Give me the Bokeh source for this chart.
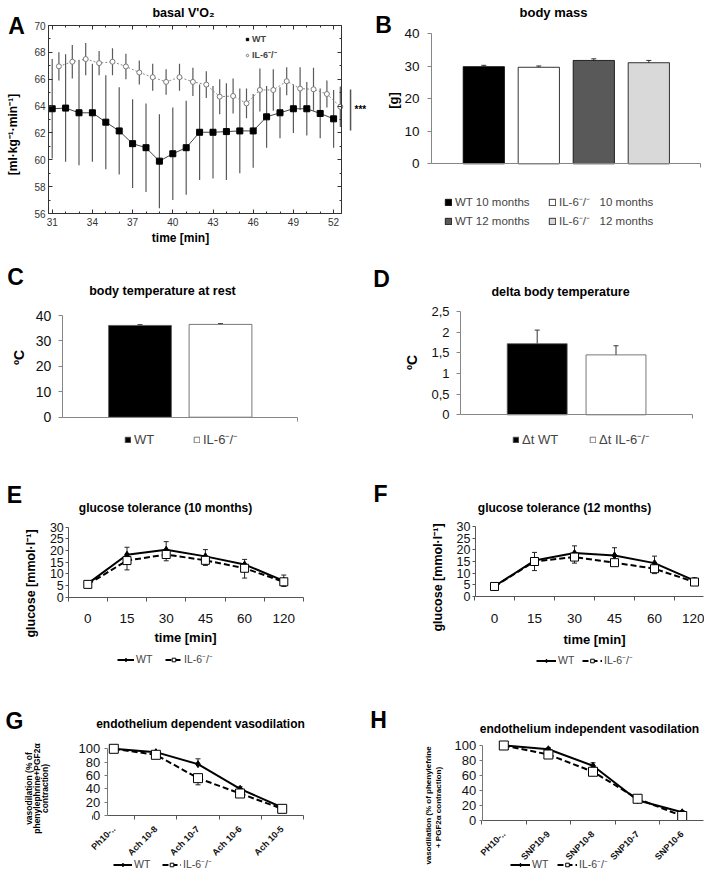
import math
from bokeh.plotting import figure
from bokeh.models import (Range1d, FixedTicker, Label, Legend, LegendItem, Whisker, TeeHead,
                          ColumnDataSource, LinearAxis, BoxAnnotation, CustomJSTickFormatter)
from bokeh.layouts import column, row
from bokeh.transform import dodge
from bokeh.embed import file_html
from bokeh.resources import INLINE

FONT = "Liberation Sans"
SUP = "\u207b/\u207b"

# ---------------- data ----------------
# A: basal V'O2
minutes = [31, 32, 33, 34, 35, 36, 37, 38, 39, 40, 41, 42, 43, 44, 45, 46, 47, 48, 49, 50, 51, 52]
wt_vo2 = [63.8, 63.85, 63.5, 63.5, 62.8, 62.15, 61.2, 60.9, 59.9, 60.45, 60.9, 62.05,
          62.05, 62.1, 62.15, 62.15, 63.2, 63.5, 63.8, 63.8, 63.45, 63.05]
wt_vo2_err = [3.7, 4.0, 3.9, 3.65, 3.5, 3.25, 3.3, 3.3, 3.5, 3.45, 3.5, 3.55,
              3.45, 3.6, 3.15, 2.75, 2.3, 1.9, 1.8, 2.0, 1.85, 2.15]
il_vo2 = [66.96, 67.3, 67.5, 67.2, 67.3, 66.95, 66.5, 66.15, 65.8, 66.15, 65.8, 65.6,
          64.7, 64.75, 64.2, 65.2, 65.2, 65.85, 65.3, 65.25, 64.9, 63.95]
il_vo2_err = [1.05, 1.25, 1.2, 0.9, 1.0, 0.95, 0.9, 1.0, 0.95, 1.0, 1.05, 1.0,
              1.3, 1.3, 1.1, 1.6, 1.55, 1.05, 1.6, 1.6, 1.0, 1.5]
a_xticks = [31, 34, 37, 40, 43, 46, 49, 52]
a_yticks = [56, 58, 60, 62, 64, 66, 68, 70]
a_yminor = [56, 57, 58, 59, 60, 61, 62, 63, 64, 65, 66, 67, 68, 69, 70]

# B: body mass
mass_groups = ["WT 10 months", "IL-6" + SUP + "   10 months", "WT 12 months", "IL-6" + SUP + "   12 months"]
mass = [29.9, 29.7, 31.8, 31.1]
mass_err = [0.4, 0.4, 0.5, 0.7]
mass_colors = ["#000000", "#ffffff", "#595959", "#d9d9d9"]
b_yticks = [0, 10, 20, 30, 40]

# C: body temperature at rest
temp_groups = ["WT", "IL-6" + SUP]
temp = [36.1, 36.5]
temp_err = [0.3, 0.3]
c_yticks = [0, 10, 20, 30, 40]

# D: delta body temperature
delta_groups = ["\u0394t WT", "\u0394t IL-6" + SUP]
delta = [1.72, 1.45]
delta_err = [0.33, 0.22]
d_yticks = [0, 0.5, 1, 1.5, 2, 2.5]

two_colors = ["#000000", "#ffffff"]

# E/F: glucose tolerance
gtt_times = ["0", "15", "30", "45", "60", "120"]
wt10 = [5.8, 18.2, 20.3, 17.5, 14.0, 7.0]
wt10_err = [0.8, 3.2, 3.5, 2.9, 2.2, 2.5]
il10 = [5.5, 15.7, 18.3, 15.8, 12.4, 6.6]
il10_err = [0.8, 4.0, 2.7, 2.2, 4.2, 2.0]
wt12 = [4.4, 15.4, 18.6, 17.6, 14.3, 6.8]
wt12_err = [0.8, 3.5, 3.1, 3.3, 3.0, 1.2]
il12 = [4.3, 15.0, 16.9, 14.5, 11.9, 6.2]
il12_err = [0.8, 3.9, 2.6, 1.2, 2.1, 0.9]
gtt_yticks = [0, 5, 10, 15, 20, 25, 30]

# G/H: vasodilation
dep_labels = ["Ph10-..", "Ach 10-8", "Ach 10-7", "Ach 10-6", "Ach 10-5"]
wt_dep = [100, 95, 77, 40, 12]
wt_dep_err = [1, 2, 8, 3, 2]
il_dep = [100, 91, 56, 33, 10]
il_dep_err = [1, 3, 10, 3, 2]
ind_labels = ["PH10-..", "SNP10-9", "SNP10-8", "SNP10-7", "SNP10-6"]
wt_ind = [100, 95, 73, 27, 11]
wt_ind_err = [1, 2, 4, 3, 2]
il_ind = [100, 88, 65, 29, 6]
il_ind_err = [1, 2, 4, 3, 2]
vaso_yticks = [0, 20, 40, 60, 80, 100]


# ---------------- helpers ----------------
class Panel:
    """Figure whose frame fills the whole figure; the data ranges are set so that
    the data pair xd/yd lands on the page pixels xp/yp."""

    def __init__(self, ox, oy, w, h, xd, xp, yd, yp):
        self.ox, self.oy, self.w, self.h = ox, oy, w, h
        self.kx = (xd[1] - xd[0]) / (xp[1] - xp[0])
        self.ky = (yd[1] - yd[0]) / (yp[0] - yp[1])
        self.xd0, self.xp0, self.yd0, self.yp0 = xd[0], xp[0], yd[0], yp[0]
        p = figure(width=w, height=h,
                   x_range=Range1d(self.xd(ox), self.xd(ox + w)),
                   y_range=Range1d(self.yd(oy + h), self.yd(oy)),
                   output_backend="svg", toolbar_location=None,
                   min_border=0, min_border_left=0, min_border_right=0,
                   min_border_top=0, min_border_bottom=0)
        p.outline_line_color = None
        p.xgrid.visible = False
        p.ygrid.visible = False
        p.background_fill_color = "white"
        p.border_fill_color = "white"
        self.p = p

    def xd(self, X):
        return self.xd0 + (X - self.xp0) * self.kx

    def yd(self, Y):
        return self.yd0 + (self.yp0 - Y) * self.ky

    def sx(self, X):
        return X - self.ox

    def sy(self, Y):
        return self.oy + self.h - Y

    def axes(self, left, right, bottom, top):
        xa, ya = self.p.xaxis[0], self.p.yaxis[0]
        xa.fixed_location = self.yd(bottom)
        xa.bounds = (self.xd(left), self.xd(right))
        ya.fixed_location = self.xd(left)
        ya.bounds = (self.yd(bottom), self.yd(top))
        return xa, ya

    def text(self, X, Y, s, size, bold=False, align="center", angle=0.0, color="#000000"):
        self.p.add_layout(Label(x=self.sx(X), y=self.sy(Y), x_units="screen", y_units="screen",
                                text=s, text_font=FONT, text_font_size=f"{size}px",
                                text_font_style="bold" if bold else "normal",
                                text_align=align, text_baseline="middle", angle=angle,
                                text_color=color))

    def legend(self, X, Y, items, orientation="horizontal", glyph_w=8, glyph_h=8, size=11,
               bold=False, spacing=6, standoff=3, label_w=20, label_h=10):
        item_h = max(glyph_h, label_h)
        n = len(items)
        if orientation == "horizontal":
            bottom = Y + item_h / 2
        else:
            bottom = Y - item_h / 2 + n * item_h + (n - 1) * spacing
        lg = Legend(items=items, location=(self.sx(X), self.sy(bottom)), orientation=orientation,
                    glyph_width=int(glyph_w), glyph_height=int(glyph_h), label_width=int(label_w),
                    label_height=int(label_h), label_standoff=int(standoff), spacing=int(spacing),
                    padding=0, margin=0, border_line_color=None, background_fill_alpha=0,
                    label_text_font=FONT, label_text_font_size=f"{size}px",
                    label_text_font_style="bold" if bold else "normal",
                    label_text_baseline="middle")
        self.p.add_layout(lg, "center")


def style_axis(ax, size, color="#868686", tick_out=4, tick_in=0, standoff=6, label_color="#111111",
               bold=False):
    ax.axis_line_color = color
    ax.major_tick_line_color = color
    ax.major_tick_out = tick_out
    ax.major_tick_in = tick_in
    ax.minor_tick_line_color = None
    ax.major_label_text_font = FONT
    ax.major_label_text_font_size = f"{size}px"
    ax.major_label_text_color = label_color
    ax.major_label_standoff = standoff
    ax.major_label_text_font_style = "bold" if bold else "normal"


ROW1, ROW2, ROW3, ROW4 = 246, 216, 220, 190
Y2 = ROW1
Y3 = ROW1 + ROW2
Y4 = ROW1 + ROW2 + ROW3

# ---------------- A ----------------
A = Panel(0, 0, 352, ROW1, (31, 52), (51.7, 51.7 + 21 * 13.4), (56, 70), (213, 25))
pA = A.p
srcA = ColumnDataSource(dict(
    t=minutes, wt=wt_vo2, il=il_vo2,
    wt_lo=[v - e for v, e in zip(wt_vo2, wt_vo2_err)], wt_hi=[v + e for v, e in zip(wt_vo2, wt_vo2_err)],
    il_lo=[v - e for v, e in zip(il_vo2, il_vo2_err)], il_hi=[v + e for v, e in zip(il_vo2, il_vo2_err)]))
pA.segment(x0="t", y0="wt_lo", x1="t", y1="wt_hi", source=srcA, line_color="#5a5a5a", line_width=1.2)
pA.segment(x0=dodge("t", 0.5), y0="il_lo", x1=dodge("t", 0.5), y1="il_hi", source=srcA,
           line_color="#5a5a5a", line_width=1.2)
pA.line(x="t", y="wt", source=srcA, line_color="#444444", line_width=1)
rA_wt = pA.scatter(x="t", y="wt", source=srcA, marker="square", size=6, fill_color="black",
                   line_color="black")
pA.line(x=dodge("t", 0.5), y="il", source=srcA, line_color="#8a8a8a", line_width=1, line_dash="2 2")
rA_il = pA.scatter(x=dodge("t", 0.5), y="il", source=srcA, marker="circle", size=5,
                   fill_color="white", line_color="#7a7a7a")
xtA = FixedTicker(ticks=a_xticks, minor_ticks=minutes)
ytA = FixedTicker(ticks=a_yticks, minor_ticks=a_yminor)
xaA, yaA = A.axes(48, 340.7, 213, 25)
xaA.ticker = xtA
yaA.ticker = ytA
for ax in [xaA, yaA]:
    style_axis(ax, 10, color="#333333", tick_out=0, tick_in=4, standoff=4, label_color="#333333")
    ax.minor_tick_line_color = "#333333"
    ax.minor_tick_in = 2
    ax.minor_tick_out = 0
yaA.major_label_standoff = 3
topA = LinearAxis(ticker=xtA, fixed_location=A.yd(25), bounds=(A.xd(48), A.xd(340.7)))
rightA = LinearAxis(ticker=ytA, fixed_location=A.xd(340.7), bounds=(A.yd(213), A.yd(25)))
for ax in [topA, rightA]:
    style_axis(ax, 10, color="#333333", tick_out=0, tick_in=4, standoff=0)
    ax.major_label_text_color = None
    ax.minor_tick_line_color = "#333333"
    ax.minor_tick_in = 2
    ax.minor_tick_out = 0
pA.add_layout(topA, "above")
pA.add_layout(rightA, "right")
A.text(16, 25, "A", 23, bold=True)
A.text(183, 12, "basal V'O\u2082", 12.5, bold=True)
A.text(12, 134, "[ml\u00b7kg\u207b\u00b9\u00b7min\u207b\u00b9]", 12, bold=True, angle=math.pi / 2)
A.text(180, 237, "time [min]", 12, bold=True)
pA.add_layout(BoxAnnotation(left=A.sx(349.3), right=A.sx(350.8), top=A.sy(89), bottom=A.sy(130),
                            left_units="screen", right_units="screen", top_units="screen",
                            bottom_units="screen", fill_color="#555555", fill_alpha=1,
                            line_color=None))
A.legend(244, 43.5, [LegendItem(label="WT", renderers=[rA_wt]),
                     LegendItem(label="IL-6" + SUP, renderers=[rA_il])],
         orientation="vertical", glyph_w=6, glyph_h=6, size=9, bold=True, spacing=4,
         standoff=2, label_w=20, label_h=9)

# ---------------- B ----------------
B = Panel(352, 0, 352, ROW1, (1, 2), (483.3, 538.3), (0, 40), (163.3, 33.3))
pB = B.p
srcB = ColumnDataSource(dict(x=list(range(1, len(mass) + 1)), v=mass,
                             hi=[v + e for v, e in zip(mass, mass_err)], color=mass_colors))
rB = pB.vbar(x="x", top="v", width=0.75, source=srcB, fill_color="color", line_color="black",
             line_width=0.8)
pB.add_layout(Whisker(source=srcB, base="x", lower="v", upper="hi", dimension="height",
                      line_color="#333333", line_width=1, lower_head=None,
                      upper_head=TeeHead(size=5, line_color="#333333", line_width=1)))
xaB, yaB = B.axes(431, 700, 163.3, 33.3)
yaB.ticker = FixedTicker(ticks=b_yticks)
style_axis(yaB, 13.5, standoff=8)
xaB.ticker = FixedTicker(ticks=[B.xd(700)])
style_axis(xaB, 10, standoff=0)
xaB.major_label_text_color = None
B.text(383, 24, "B", 23, bold=True)
B.text(553, 12, "body mass", 13, bold=True)
B.text(393, 100, "[g]", 13, bold=True, angle=math.pi / 2)
B.text(354, 109, "***", 10, bold=True, align="left")
B.legend(444, 203, [LegendItem(label=mass_groups[0], renderers=[rB], index=0),
                    LegendItem(label=mass_groups[1], renderers=[rB], index=1)],
         glyph_w=8, glyph_h=8, size=11.5, spacing=8, standoff=3, label_w=85, label_h=12)
B.legend(444, 222, [LegendItem(label=mass_groups[2], renderers=[rB], index=2),
                    LegendItem(label=mass_groups[3], renderers=[rB], index=3)],
         glyph_w=8, glyph_h=8, size=11.5, spacing=8, standoff=3, label_w=85, label_h=12)

# ---------------- C ----------------
C = Panel(0, Y2, 352, ROW2, (1, 2), (139.5, 220), (0, 40), (416.7, 315))
pC = C.p
srcC = ColumnDataSource(dict(x=list(range(1, len(temp) + 1)), v=temp,
                             hi=[v + e for v, e in zip(temp, temp_err)], color=two_colors))
rC = pC.vbar(x="x", top="v", width=0.78, source=srcC, fill_color="color", line_color="#555555",
             line_width=0.8)
pC.add_layout(Whisker(source=srcC, base="x", lower="v", upper="hi", dimension="height",
                      line_color="#333333", line_width=1, lower_head=None,
                      upper_head=TeeHead(size=5, line_color="#333333", line_width=1)))
xaC, yaC = C.axes(61.7, 297, 416.7, 315)
yaC.ticker = FixedTicker(ticks=c_yticks)
style_axis(yaC, 14, standoff=7)
xaC.ticker = FixedTicker(ticks=[C.xd(297)])
style_axis(xaC, 10, standoff=0)
xaC.major_label_text_color = None
C.text(15, 276, "C", 23, bold=True)
C.text(162, 290, "body temperature at rest", 12.5, bold=True)
C.text(18, 357, "\u00baC", 14, bold=True, angle=math.pi / 2)
C.legend(124, 442, [LegendItem(label=temp_groups[0], renderers=[rC], index=0),
                    LegendItem(label=temp_groups[1], renderers=[rC], index=1)],
         glyph_w=7, glyph_h=7, size=13, spacing=9, standoff=3, label_w=50, label_h=12)

# ---------------- D ----------------
D = Panel(352, Y2, 352, ROW2, (1, 2), (536.7, 615.5), (0, 2.5), (414.3, 311))
pD = D.p
srcD = ColumnDataSource(dict(x=list(range(1, len(delta) + 1)), v=delta,
                             hi=[v + e for v, e in zip(delta, delta_err)], color=two_colors))
rD = pD.vbar(x="x", top="v", width=0.76, source=srcD, fill_color="color", line_color="#555555",
             line_width=0.8)
pD.add_layout(Whisker(source=srcD, base="x", lower="v", upper="hi", dimension="height",
                      line_color="#333333", line_width=1, lower_head=None,
                      upper_head=TeeHead(size=5, line_color="#333333", line_width=1)))
xaD, yaD = D.axes(460, 691.7, 414.3, 311)
yaD.ticker = FixedTicker(ticks=d_yticks)
yaD.formatter = CustomJSTickFormatter(code="return String(tick).replace('.', ',');")
style_axis(yaD, 13, standoff=7)
xaD.ticker = FixedTicker(ticks=[D.xd(691.7)])
style_axis(xaD, 10, standoff=0)
xaD.major_label_text_color = None
D.text(381, 278, "D", 23, bold=True)
D.text(560, 291, "delta body temperature", 12.5, bold=True)
D.text(411, 362, "\u00baC", 14, bold=True, angle=math.pi / 2)
D.legend(512, 442, [LegendItem(label=delta_groups[0], renderers=[rD], index=0),
                    LegendItem(label=delta_groups[1], renderers=[rD], index=1)],
         glyph_w=7, glyph_h=7, size=13, spacing=9, standoff=3, label_w=58, label_h=12)


# ---------------- line panels ----------------
def line_panel(P, cats, wt, wt_err, il, il_err, frame, xsize, rotate=False, marker_size=8):
    p = P.p
    idx = list(range(len(cats)))
    src = ColumnDataSource(dict(x=idx, wt=wt, il=il,
                                wt_hi=[v + e for v, e in zip(wt, wt_err)],
                                il_lo=[v - e for v, e in zip(il, il_err)]))
    p.add_layout(Whisker(source=src, base="x", lower="wt", upper="wt_hi", dimension="height",
                         line_color="#222222", line_width=1, lower_head=None,
                         upper_head=TeeHead(size=5, line_color="#222222", line_width=1)))
    p.add_layout(Whisker(source=src, base="x", lower="il_lo", upper="il", dimension="height",
                         line_color="#222222", line_width=1, upper_head=None,
                         lower_head=TeeHead(size=5, line_color="#222222", line_width=1)))
    l1 = p.line(x="x", y="wt", source=src, line_color="black", line_width=2)
    s1 = p.scatter(x="x", y="wt", source=src, marker="diamond", size=7, fill_color="black",
                   line_color="black")
    l2 = p.line(x="x", y="il", source=src, line_color="black", line_width=2, line_dash="6 3")
    s2 = p.scatter(x="x", y="il", source=src, marker="square", size=marker_size, fill_color="white",
                   line_color="black", line_width=1)
    xa, ya = P.axes(*frame)
    bounds = [i - 0.5 for i in range(len(cats) + 1)]
    xa.ticker = FixedTicker(ticks=idx, minor_ticks=bounds)
    xa.major_label_overrides = {i: c for i, c in zip(idx, cats)}
    style_axis(xa, xsize, color="#555555", tick_out=0, standoff=8 if rotate else 13, bold=rotate)
    xa.major_tick_line_color = None
    xa.minor_tick_line_color = "#555555"
    xa.minor_tick_out = 4
    xa.minor_tick_in = 0
    if rotate:
        xa.major_label_orientation = math.pi / 4
    return xa, ya, (l1, s1), (l2, s2)


E = Panel(0, Y3, 352, ROW3, (0, 5), (87.3, 87.3 + 5 * 39.2), (0, 30), (596.7, 526.7))
xaE, yaE, wE, iE = line_panel(E, gtt_times, wt10, wt10_err, il10, il10_err,
                              (68.3, 303.3, 596.7, 526.7), 13.5)
yaE.ticker = FixedTicker(ticks=gtt_yticks)
style_axis(yaE, 12.5, color="#555555", standoff=2, tick_out=3)
E.text(14, 494, "E", 23, bold=True)
E.text(165, 507, "glucose tolerance (10 months)", 12, bold=True)
E.text(30, 583, "glucose [mmol\u00b7l\u207b\u00b9]", 12.5, bold=True, angle=math.pi / 2)
E.text(185, 637, "time [min]", 13, bold=True)
E.legend(117, 661, [LegendItem(label="WT", renderers=list(wE)),
                    LegendItem(label="IL-6" + SUP, renderers=list(iE))],
         glyph_w=17, glyph_h=9, size=10.5, spacing=8, standoff=2, label_w=21, label_h=10)

F = Panel(352, Y3, 352, ROW3, (0, 5), (494, 694), (0, 30), (596, 526))
xaF, yaF, wF, iF = line_panel(F, gtt_times, wt12, wt12_err, il12, il12_err,
                              (475, 703, 596, 526), 13.5)
yaF.ticker = FixedTicker(ticks=gtt_yticks)
style_axis(yaF, 12.5, color="#555555", standoff=2, tick_out=3)
F.text(380, 493, "F", 23, bold=True)
F.text(564, 507, "glucose tolerance (12 months)", 12, bold=True)
F.text(437, 577, "glucose [mmol\u00b7l\u207b\u00b9]", 12.5, bold=True, angle=math.pi / 2)
F.text(594, 639, "time [min]", 13, bold=True)
F.legend(536, 662, [LegendItem(label="WT", renderers=list(wF)),
                    LegendItem(label="IL-6" + SUP, renderers=list(iF))],
         glyph_w=20, glyph_h=9, size=10.5, spacing=5, standoff=2, label_w=19, label_h=10)

G = Panel(0, Y4, 352, ROW4, (0, 4), (113.3, 281.7), (0, 100), (815, 748.3))
xaG, yaG, wG, iG = line_panel(G, dep_labels, wt_dep, wt_dep_err, il_dep, il_dep_err,
                              (106.7, 302.7, 815, 748.3), 9, rotate=True, marker_size=9)
yaG.ticker = FixedTicker(ticks=vaso_yticks)
style_axis(yaG, 13, color="#777777", standoff=4, tick_out=3)
G.text(14, 720, "G", 23, bold=True)
G.text(200, 723, "endothelium dependent vasodilation", 12, bold=True)
G.text(28, 788, "vasodilation (% of", 8.5, bold=True, angle=math.pi / 2)
G.text(36, 788, "phenylephrine+PGF2\u03b1", 8.5, bold=True, angle=math.pi / 2)
G.text(44, 788, "contraction)", 8.5, bold=True, angle=math.pi / 2)
G.legend(113, 866, [LegendItem(label="WT", renderers=list(wG)),
                    LegendItem(label="IL-6" + SUP, renderers=list(iG))],
         glyph_w=19, glyph_h=9, size=10.5, spacing=10, standoff=2, label_w=18, label_h=10)

H = Panel(352, Y4, 352, ROW4, (0, 4), (503.3, 681.7), (0, 100), (820, 745))
xaH, yaH, wH, iH = line_panel(H, ind_labels, wt_ind, wt_ind_err, il_ind, il_ind_err,
                              (481.7, 703, 820, 745), 9, rotate=True, marker_size=9)
yaH.ticker = FixedTicker(ticks=vaso_yticks)
style_axis(yaH, 13, color="#777777", standoff=3, tick_out=3)
H.text(378, 719, "H", 23, bold=True)
H.text(589, 728, "endothelium independent vasodilation", 12, bold=True)
H.text(428, 805, "vasodilation (% of phenylefrine", 8, bold=True, angle=math.pi / 2)
H.text(438, 807, "+ PGF2\u03b1 contraction)", 8, bold=True, angle=math.pi / 2)
H.legend(510, 866, [LegendItem(label="WT", renderers=list(wH)),
                    LegendItem(label="IL-6" + SUP, renderers=list(iH))],
         glyph_w=20, glyph_h=9, size=10.5, spacing=7, standoff=2, label_w=18, label_h=10)

layout = column(row(A.p, B.p), row(C.p, D.p), row(E.p, F.p), row(G.p, H.p))
open("out.html", "w").write(file_html(layout, INLINE))
